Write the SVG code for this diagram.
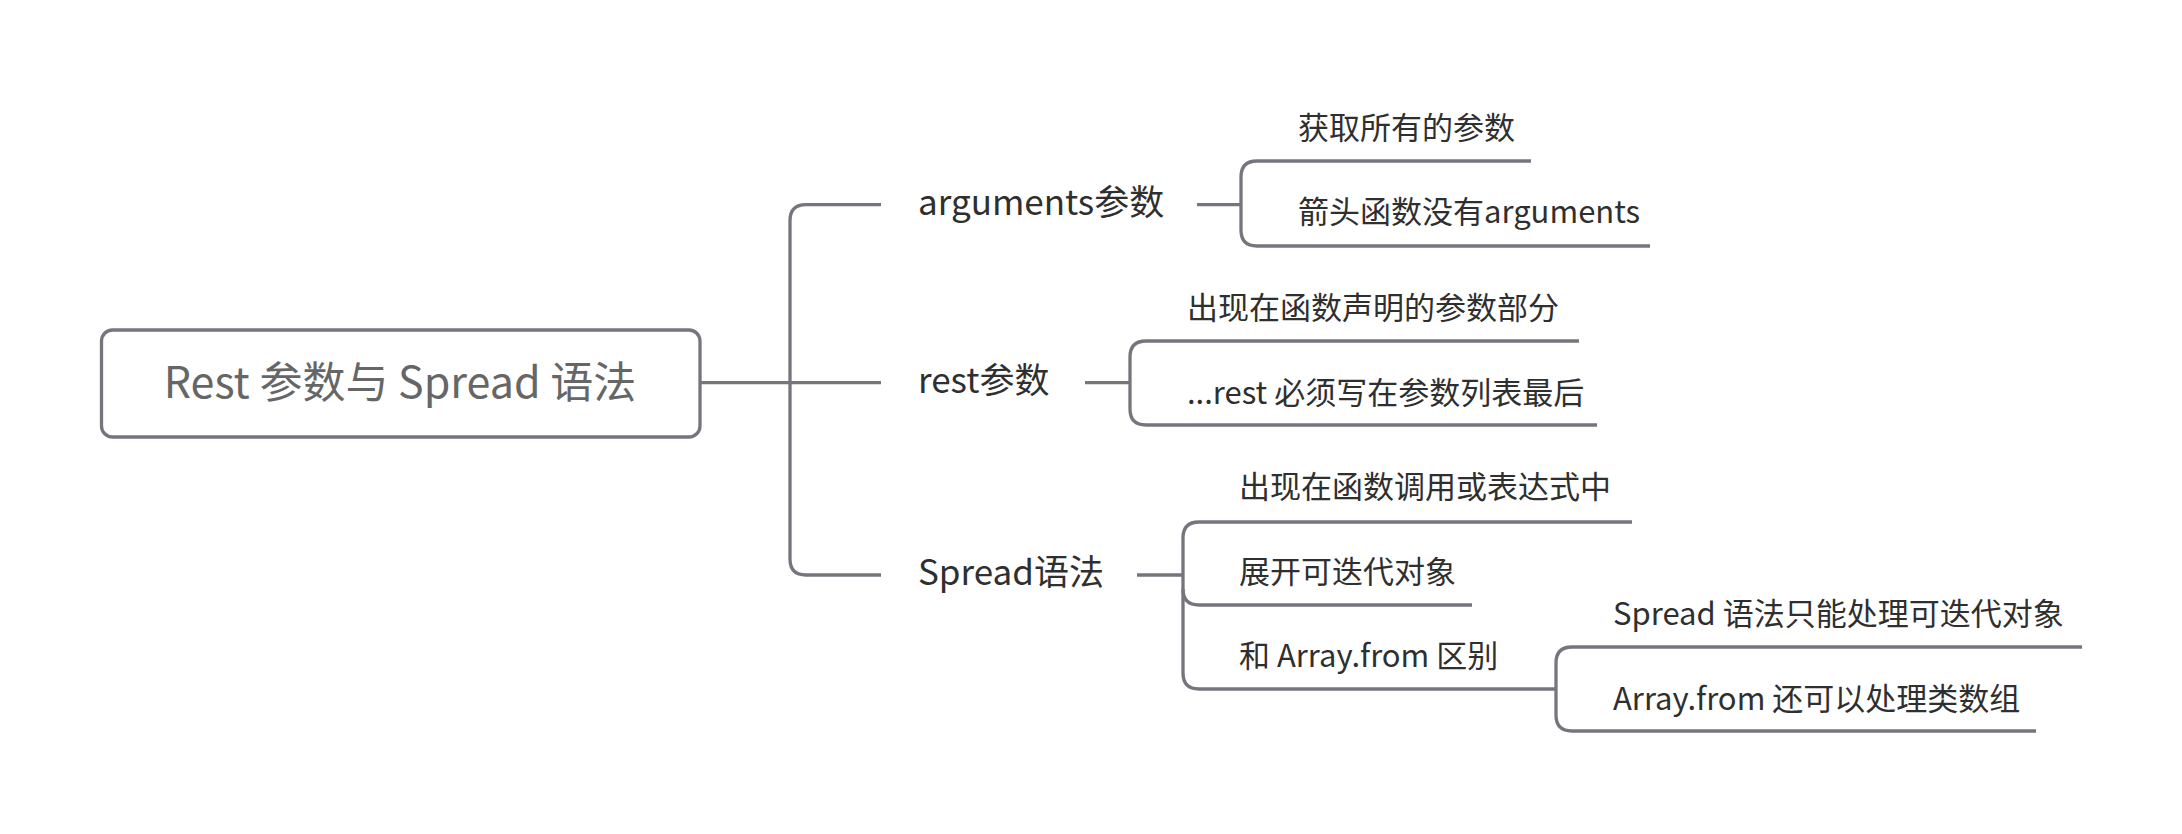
<svg xmlns="http://www.w3.org/2000/svg" width="2182" height="834" viewBox="0 0 2182 834">
<style>
.ln{fill:none;stroke:#76757d;stroke-width:3.3;stroke-linecap:butt}
text{font-family:"Noto Sans CJK SC","Noto Sans",sans-serif;fill:#2f2f2f;dominant-baseline:central}
.root{font-size:43px;fill:#666666;text-anchor:middle}
.l1{font-size:35px}
.l2{font-size:31px}
</style>
<rect width="2182" height="834" fill="#ffffff"/>
<g id="connectors">
<path class="ln" d="M700 382.7H881"/>
<path class="ln" d="M881 204.6H806Q790 204.6 790 220.6V559Q790 575 806 575H881"/>
<path class="ln" d="M1197 204.6H1241"/>
<path class="ln" d="M1531 161H1257Q1241 161 1241 177V230Q1241 246 1257 246H1650"/>
<path class="ln" d="M1085 382.7H1130"/>
<path class="ln" d="M1579 341H1146Q1130 341 1130 357V409Q1130 425 1146 425H1597"/>
<path class="ln" d="M1137 575H1183"/>
<path class="ln" d="M1632 522H1199Q1183 522 1183 538V673Q1183 689 1199 689H1556"/>
<path class="ln" d="M1183 589Q1183 605 1199 605H1472"/>
<path class="ln" d="M2082 647H1572Q1556 647 1556 663V715Q1556 731 1572 731H2036"/>
</g>
<g id="root">
<rect x="101.5" y="330" width="598.5" height="107" rx="11" fill="#ffffff" stroke="#76757d" stroke-width="3.3"/>
<text class="root" x="400" y="379">Rest 参数与 Spread 语法</text>
</g>
<g id="n-arguments"><text class="l1" x="918" y="199">arguments参数</text></g>
<g id="n-rest"><text class="l1" x="918" y="377">rest参数</text></g>
<g id="n-spread"><text class="l1" x="918" y="569">Spread语法</text></g>
<g id="n-a1"><text class="l2" x="1298" y="125">获取所有的参数</text></g>
<g id="n-a2"><text class="l2" x="1298" y="209">箭头函数没有arguments</text></g>
<g id="n-r1"><text class="l2" x="1187" y="305">出现在函数声明的参数部分</text></g>
<g id="n-r2"><text class="l2" x="1187" y="390">...rest 必须写在参数列表最后</text></g>
<g id="n-s1"><text class="l2" x="1239" y="484.5">出现在函数调用或表达式中</text></g>
<g id="n-s2"><text class="l2" x="1239" y="569.5">展开可迭代对象</text></g>
<g id="n-s3"><text class="l2" x="1239" y="653">和 Array.from 区别</text></g>
<g id="n-s31"><text class="l2" x="1613" y="611">Spread 语法只能处理可迭代对象</text></g>
<g id="n-s32"><text class="l2" x="1613" y="696">Array.from 还可以处理类数组</text></g>
</svg>
